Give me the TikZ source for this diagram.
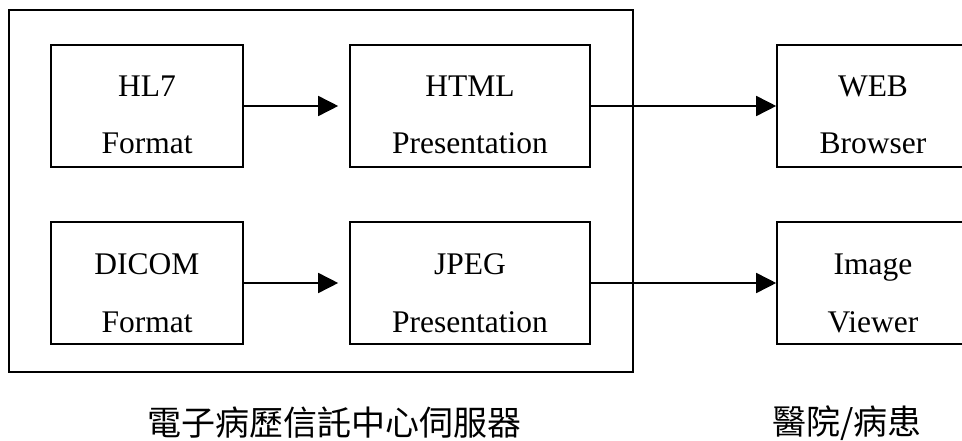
\documentclass[tikz,border=0pt]{standalone}
\usepackage{fontspec}
\setmainfont{Liberation Serif}
\newfontfamily\cjk{Noto Sans CJK TC}
\usetikzlibrary{arrows.meta}
\begin{document}
\begin{tikzpicture}[x=1pt,y=-1pt,
  box/.style={draw=black, line width=1.6pt, minimum width=192pt, minimum height=122pt, inner sep=0pt},
  outerbox/.style={draw=black, line width=1.6pt, minimum width=624pt, minimum height=362pt, inner sep=0pt},
  txt/.style={anchor=base, inner sep=0pt, font=\fontsize{31.5}{36}\selectfont},
  captxt/.style={inner sep=0pt, font=\cjk\fontsize{34}{40}\selectfont},
  conn/.style={line width=1.6pt, -{Triangle[length=20pt,width=20pt]}}]
\useasboundingbox (0,0) rectangle (962,441);
\fill[white] (0,0) rectangle (962,441);
\node[outerbox] (server) at (321,191) {};
% boxes
\node[box] (hl7) at (147,106) {};
\node[box, minimum width=240pt] (html) at (470,106) {};
\node[box] (web) at (873,106) {};
\node[box] (dicom) at (147,283) {};
\node[box, minimum width=240pt] (jpeg) at (470,283) {};
\node[box] (img) at (873,283) {};
% texts
\node[txt] (t1a) at (147,97) {HL7};
\node[txt] (t1b) at (147,154) {Format};
\node[txt] (t2a) at (470,97) {HTML};
\node[txt] (t2b) at (470,154) {Presentation};
\node[txt] (t3a) at (873,97) {WEB};
\node[txt] (t3b) at (873,154) {Browser};
\node[txt] (t4a) at (147,274) {DICOM};
\node[txt] (t4b) at (147,332) {Format};
\node[txt] (t5a) at (470,274) {JPEG};
\node[txt] (t5b) at (470,332) {Presentation};
\node[txt] (t6a) at (873,274) {Image};
\node[txt] (t6b) at (873,332) {Viewer};
% connectors
\draw[conn, shorten >=11pt] (hl7.east) -- (html.west);
\draw[conn] (html.east) -- (web.west);
\draw[conn, shorten >=11pt] (dicom.east) -- (jpeg.west);
\draw[conn] (jpeg.east) -- (img.west);
% captions
\node[captxt] (c1) at (334,423) {電子病歷信託中心伺服器};
\node[captxt] (c2) at (847,423) {醫院/病患};
\end{tikzpicture}
\end{document}
